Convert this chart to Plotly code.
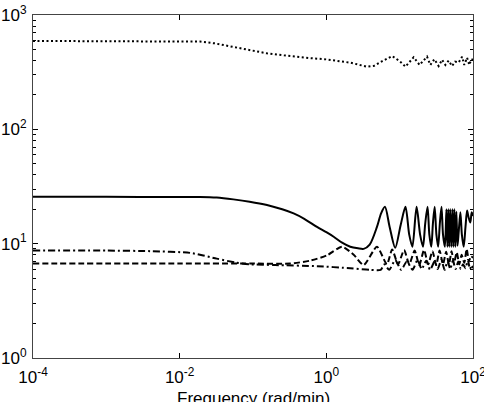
import plotly.graph_objects as go

# ---- data ----
solid_x = [1e-4, 1e-3, 0.01, 0.019, 0.032, 0.054, 0.09, 0.155, 0.25, 0.358, 0.5, 0.746, 1.0, 1.26,
           1.64, 2.12, 2.7, 3.23, 3.9, 4.9, 5.6, 6.3, 7.3, 8.7, 10.3, 12.0, 13.5, 14.9, 17.0, 19.0,
           20.8, 22.3, 24.0, 25.4, 27.0, 28.4, 30.0, 31.7, 33.5, 35.3, 37.2, 39.0, 41.4, 43.4,
           44.8, 46.1, 47.5, 49.0, 50.7, 52.4, 54.0, 55.7, 57.5, 59.3, 61.5, 64.0, 67.3, 70.5,
           74.7, 79.0, 83.0, 87.0, 92.0, 96.0, 100.0]
solid_y = [25.7, 25.7, 25.6, 25.6, 25.3, 24.4, 23.3, 21.8, 20.0, 18.4, 16.5, 14.0, 12.6, 11.5,
           10.2, 9.4, 9.1, 9.0, 9.8, 14.0, 18.5, 21.0, 14.0, 9.2, 14.5, 21.0, 12.0, 9.4, 21.0, 12.0,
           9.4, 15.0, 21.0, 12.0, 9.4, 15.0, 21.0, 12.0, 9.4, 15.0, 21.0, 12.0, 9.4, 20.0,
           9.4, 20.0, 9.4, 20.0, 9.4, 20.0, 9.4, 20.0, 9.4, 19.0, 9.6, 13.0, 18.8, 12.0,
           9.4, 14.0, 19.5, 17.0, 15.3, 18.8, 17.5]

dash_x = [1e-4, 0.01, 0.1, 0.32, 0.6, 1.02, 1.64, 2.36, 3.23, 4.9, 6.7, 7.9, 9.5, 11.5, 13.5, 16.0,
          18.5, 21.5, 24.5, 28.0, 31.5, 35.0, 39.0, 43.0, 47.0, 51.0, 55.0, 60.0, 65.0, 70.0, 76.0,
          82.0, 88.0, 94.0, 100.0]
dash_y = [6.7, 6.7, 6.7, 6.7, 7.1, 7.9, 9.4, 8.0, 6.5, 9.4, 6.6, 8.9, 6.6, 8.8, 6.6, 8.7,
          6.5, 8.8, 6.6, 8.6, 6.5, 8.7, 6.6, 8.5, 6.6, 8.6, 6.7, 8.4, 6.6, 8.0, 6.8,
          9.0, 7.0, 7.8, 7.5]

dashdot_x = [1e-4, 1e-3, 0.004, 0.014, 0.032, 0.06, 0.092, 0.2, 0.75, 2.12, 4.0, 5.5, 6.2, 7.2,
             8.7, 10.5, 12.5, 15.0, 17.5, 20.0, 23.0, 26.0, 30.0, 33.0, 37.0, 41.0, 45.0, 49.0,
             53.0, 58.0, 63.0, 68.0, 73.0, 79.0, 85.0, 91.0, 96.0, 100.0]
dashdot_y = [8.7, 8.7, 8.6, 8.3, 7.4, 6.8, 6.6, 6.5, 6.35, 6.1, 5.9, 5.9, 6.6, 5.9,
             7.2, 5.9, 7.0, 5.9, 7.2, 6.0, 7.1, 5.9, 7.0, 6.0, 7.2, 5.9, 7.0, 6.0,
             7.1, 6.0, 7.0, 6.0, 6.6, 6.1, 7.2, 6.0, 6.5, 6.1]

dot_x = [1e-4, 1e-3, 0.01, 0.019, 0.03, 0.054, 0.09, 0.155, 0.25, 0.358, 0.6, 1.0, 2.12, 3.6,
         4.5, 5.8, 7.9, 10.0, 12.0, 15.5, 18.7, 23.6, 26.2, 29.7, 34.0, 37.9, 42.0, 46.6, 51.8,
         57.0, 63.8, 71.0, 76.0, 83.0, 89.0, 95.0, 100.0]
dot_y = [593, 593, 590, 585, 565, 528, 495, 462, 445, 432, 420, 409, 383, 353,
         360, 395, 437, 395, 353, 427, 366, 432, 366, 410, 358, 406, 366, 399, 358,
         391, 384, 432, 366, 423, 366, 410, 405]

x_tickvals = [1e-4, 1e-2, 1e0, 1e2]
x_ticktext = ["10<sup>-4</sup>", "10<sup>-2</sup>", "10<sup>0</sup>", "10<sup>2</sup>"]
y_tickvals = [1, 10, 100, 1000]
y_ticktext = ["10<sup>0</sup>", "10<sup>1</sup>", "10<sup>2</sup>", "10<sup>3</sup>"]
y_minor = [2, 3, 4, 5, 6, 7, 8, 9, 20, 30, 40, 50, 60, 70, 80, 90, 200, 300, 400, 500, 600, 700, 800, 900]
x_title = "Frequency (rad/min)"

fig = go.Figure()
fig.add_trace(go.Scatter(x=dot_x, y=dot_y, mode="lines",
                         line=dict(color="black", width=2, dash="2px,2.5px")))
fig.add_trace(go.Scatter(x=solid_x, y=solid_y, mode="lines", line_shape="spline",
                         line=dict(color="black", width=2, smoothing=0.8)))
fig.add_trace(go.Scatter(x=dashdot_x, y=dashdot_y, mode="lines", line_shape="spline",
                         line=dict(color="black", width=2, dash="7px,3px,2px,3px", smoothing=0.6)))
fig.add_trace(go.Scatter(x=dash_x, y=dash_y, mode="lines", line_shape="spline",
                         line=dict(color="black", width=2, dash="6px,3px", smoothing=0.6)))

font = dict(family="Liberation Sans, Arial, sans-serif", size=17, color="black")
fig.update_layout(
    width=484, height=402,
    margin=dict(l=33, r=11, t=15, b=44),
    paper_bgcolor="white", plot_bgcolor="white",
    showlegend=False,
    font=font,
    annotations=[dict(text=x_title, xref="paper", yref="paper", x=0.5, y=-0.118,
                      xanchor="center", yanchor="middle", showarrow=False, font=font)],
)
fig.update_xaxes(type="log", range=[-4, 2], tickvals=x_tickvals, ticktext=x_ticktext,
                 ticks="inside", ticklen=5, tickcolor="black", showline=True, linecolor="#444",
                 linewidth=1, mirror="allticks", showgrid=False, zeroline=False, automargin=False,
                 ticklabeloverflow="allow", ticklabelstandoff=4, tickfont=font)
fig.update_yaxes(type="log", range=[0, 3], tickvals=y_tickvals, ticktext=y_ticktext,
                 ticks="inside", ticklen=5, tickcolor="black", showline=True, linecolor="#444",
                 linewidth=1, mirror="allticks", showgrid=False, zeroline=False, tickfont=font,
                 automargin=False, ticklabelstandoff=2, ticklabeloverflow="allow",
                 minor=dict(tickvals=y_minor, ticks="inside", ticklen=3, tickcolor="black", showgrid=False))

fig.write_html("out.html")
